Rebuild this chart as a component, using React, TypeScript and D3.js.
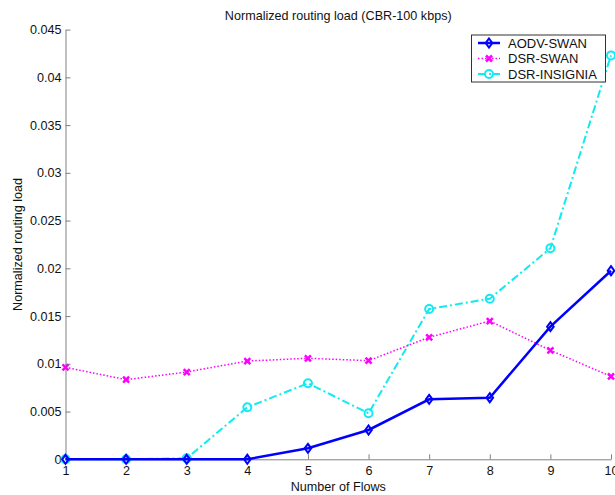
import React, { useEffect, useRef } from "react";
import * as d3 from "d3";

// values
const flows = [1, 2, 3, 4, 5, 6, 7, 8, 9, 10];
const aodvSwan = [0, 0, 0, 0, 0.00115, 0.00307, 0.00628, 0.00645, 0.01389, 0.01975];
const dsrSwan = [0.00963, 0.00834, 0.00914, 0.01029, 0.01058, 0.01033, 0.01278, 0.01448, 0.01141, 0.00869];
const dsrInsignia = [0, 0, 0.0001, 0.00545, 0.00796, 0.00482, 0.01574, 0.01682, 0.0221, 0.0423];
const yTicks = [0, 0.005, 0.01, 0.015, 0.02, 0.025, 0.03, 0.035, 0.04, 0.045];
const seriesNames = ["AODV-SWAN", "DSR-SWAN", "DSR-INSIGNIA"];

const W = 615;
const H = 495;
const FONT = "'Liberation Sans', Arial, sans-serif";
const FS = "12.6px";

const App = () => {
  const svgRef = useRef<SVGSVGElement>(null);

  useEffect(() => {
    document.body.style.margin = "0";
    const svg = d3.select(svgRef.current);
    svg.selectAll("*").remove();

    const x = d3.scaleLinear().domain([1, 10]).range([65.5, 611]);
    const y = d3.scaleLinear().domain([0, 0.045]).range([459.3, 29.6]);

    const series = [
      { name: seriesNames[0], values: aodvSwan, color: "#0000ff", width: 2.5, dash: null, marker: "diamond" },
      { name: seriesNames[1], values: dsrSwan, color: "#ff00ff", width: 1.5, dash: "1.5 2", marker: "x" },
      { name: seriesNames[2], values: dsrInsignia, color: "#10eaf2", width: 2, dash: "8 3 2 3", marker: "circle" },
    ];

    // axes (box off, ticks pointing inward)
    const yAxis = svg
      .append("g")
      .attr("transform", `translate(${x(1)},0)`)
      .call(
        d3.axisLeft(y).tickValues(yTicks).tickSizeInner(-5).tickSizeOuter(0).tickPadding(4)
          .tickFormat((d) => String(d))
      );
    const xAxis = svg
      .append("g")
      .attr("transform", `translate(0,${y(0)})`)
      .call(d3.axisBottom(x).tickValues(flows).tickSizeInner(-5).tickSizeOuter(0).tickPadding(7)
        .tickFormat((d) => String(d)));
    [yAxis, xAxis].forEach((a) => {
      a.select(".domain").attr("stroke", "#808080");
      a.selectAll(".tick line").attr("stroke", "#808080");
      a.selectAll("text").attr("fill", "#111").style("font-size", FS).style("font-family", FONT);
    });

    // title and axis labels
    svg.append("text")
      .attr("x", (x(1) + x(10)) / 2)
      .attr("y", 20)
      .attr("text-anchor", "middle")
      .style("font-family", FONT)
      .style("font-size", FS)
      .attr("fill", "#111")
      .text("Normalized routing load (CBR-100 kbps)");

    svg.append("text")
      .attr("x", (x(1) + x(10)) / 2)
      .attr("y", 491)
      .attr("text-anchor", "middle")
      .style("font-family", FONT)
      .style("font-size", FS)
      .attr("fill", "#111")
      .text("Number of Flows");

    svg.append("text")
      .attr("transform", `translate(22,${(y(0) + y(0.045)) / 2}) rotate(-90)`)
      .attr("text-anchor", "middle")
      .style("font-family", FONT)
      .style("font-size", FS)
      .attr("fill", "#111")
      .text("Normalized routing load");

    const drawMarker = (g: any, kind: string, color: string, cx: number, cy: number) => {
      if (kind === "diamond") {
        g.append("path")
          .attr("d", `M${cx},${cy - 4.5}L${cx + 3.3},${cy}L${cx},${cy + 4.5}L${cx - 3.3},${cy}Z`)
          .attr("fill", "none")
          .attr("stroke", color)
          .attr("stroke-width", 2);
      } else if (kind === "x") {
        const s = 3;
        g.append("path")
          .attr("d", `M${cx - s},${cy - s}L${cx + s},${cy + s}M${cx - s},${cy + s}L${cx + s},${cy - s}`)
          .attr("stroke", color)
          .attr("stroke-width", 2.5)
          .attr("fill", "none");
      } else {
        g.append("circle")
          .attr("cx", cx)
          .attr("cy", cy)
          .attr("r", 4)
          .attr("fill", "none")
          .attr("stroke", color)
          .attr("stroke-width", 2);
      }
    };

    const line = d3.line<number>().x((d, i) => x(flows[i])).y((d) => y(d));

    // draw back to front so blue ends on top
    [...series].reverse().forEach((s) => {
      const g = svg.append("g");
      g.append("path")
        .attr("d", line(s.values))
        .attr("fill", "none")
        .attr("stroke", s.color)
        .attr("stroke-width", s.width)
        .attr("stroke-dasharray", s.dash);
      s.values.forEach((v, i) => drawMarker(g, s.marker, s.color, x(flows[i]), y(v)));
    });

    // legend
    const lg = svg.append("g");
    lg.append("rect")
      .attr("x", 471.5)
      .attr("y", 35)
      .attr("width", 134)
      .attr("height", 47)
      .attr("fill", "#fff")
      .attr("stroke", "#333")
      .attr("stroke-width", 1);
    series.forEach((s, i) => {
      const cy = 43 + i * 15.5;
      lg.append("line")
        .attr("x1", 478)
        .attr("x2", 500)
        .attr("y1", cy)
        .attr("y2", cy)
        .attr("stroke", s.color)
        .attr("stroke-width", s.width)
        .attr("stroke-dasharray", s.dash);
      drawMarker(lg, s.marker, s.color, 489, cy);
      lg.append("text")
        .attr("x", 508)
        .attr("y", cy)
        .attr("dy", "0.35em")
        .style("font-family", FONT)
        .style("font-size", "13px")
        .attr("fill", "#111")
        .text(s.name);
    });
  }, []);

  return <svg ref={svgRef} width={W} height={H} style={{ display: "block", background: "#fff" }}></svg>;
};

export default App;
